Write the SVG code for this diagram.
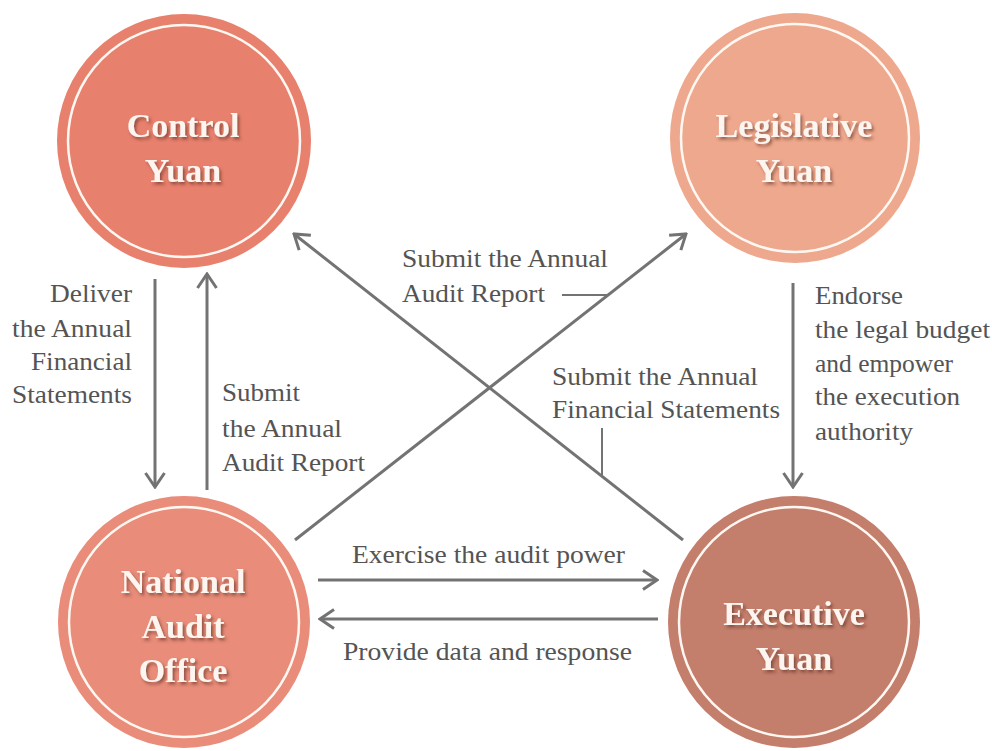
<svg xmlns="http://www.w3.org/2000/svg" width="992" height="751" viewBox="0 0 992 751">
<style>
.ring{fill:none;stroke:#fff8f2;stroke-width:2.5}
.nl{font-family:"Liberation Serif","Times New Roman",serif;font-weight:bold;font-size:34px;fill:#fdf6f0;text-anchor:middle}
.lb{font-family:"Liberation Serif","Times New Roman",serif;font-size:25px;fill:#545454}
.ln{fill:none;stroke:#737373;stroke-width:3}
.thin{fill:none;stroke:#737373;stroke-width:2}
</style>
<defs>
<marker id="ah" viewBox="0 0 18 22" refX="16" refY="11" markerWidth="18" markerHeight="22" markerUnits="userSpaceOnUse" orient="auto">
<path d="M2,1.5 L16,11 L2,20.5" fill="none" stroke="#737373" stroke-width="3"/>
</marker>
<filter id="sh" x="-20%" y="-20%" width="140%" height="140%">
<feDropShadow dx="2" dy="2.5" stdDeviation="1.5" flood-color="#5a2a20" flood-opacity="0.6"/>
</filter>
</defs>
<rect width="992" height="751" fill="#ffffff"/>
<g id="control-yuan">
<circle cx="184" cy="141" r="127" fill="#e8806e"/>
<circle class="ring" cx="184" cy="141" r="116"/>
<g filter="url(#sh)"><text class="nl" x="183" y="137">Control</text><text class="nl" x="183" y="182">Yuan</text></g>
</g>
<g id="legislative-yuan">
<circle cx="795" cy="138" r="125" fill="#eea88e"/>
<circle class="ring" cx="795" cy="138" r="114"/>
<g filter="url(#sh)"><text class="nl" x="794" y="137">Legislative</text><text class="nl" x="794" y="182">Yuan</text></g>
</g>
<g id="national-audit-office">
<circle cx="184" cy="622" r="126" fill="#e98c7a"/>
<circle class="ring" cx="184" cy="622" r="115"/>
<g filter="url(#sh)"><text class="nl" x="183" y="593">National</text><text class="nl" x="183" y="638">Audit</text><text class="nl" x="183" y="682">Office</text></g>
</g>
<g id="executive-yuan">
<circle cx="794" cy="622" r="126" fill="#c47e6c"/>
<circle class="ring" cx="794" cy="622" r="115"/>
<g filter="url(#sh)"><text class="nl" x="794" y="625">Executive</text><text class="nl" x="794" y="670">Yuan</text></g>
</g>
<g id="connectors">
<line class="ln" x1="155" y1="279" x2="155" y2="487" marker-end="url(#ah)"/>
<line class="ln" x1="207" y1="490" x2="207" y2="274" marker-end="url(#ah)"/>
<line class="ln" x1="793" y1="283" x2="793" y2="487" marker-end="url(#ah)"/>
<line class="ln" x1="318" y1="580" x2="657" y2="580" marker-end="url(#ah)"/>
<line class="ln" x1="658" y1="619" x2="320" y2="619" marker-end="url(#ah)"/>
<line class="ln" x1="295" y1="540" x2="686" y2="234" marker-end="url(#ah)"/>
<line class="ln" x1="683" y1="540" x2="294" y2="234" marker-end="url(#ah)"/>
<line class="thin" x1="562" y1="295" x2="607" y2="295"/>
<line class="thin" x1="602" y1="428" x2="602" y2="475"/>
</g>
<g id="labels">
<text class="lb" x="50" y="302" textLength="82" lengthAdjust="spacingAndGlyphs">Deliver</text>
<text class="lb" x="12" y="337" textLength="120" lengthAdjust="spacingAndGlyphs">the Annual</text>
<text class="lb" x="31" y="370" textLength="101" lengthAdjust="spacingAndGlyphs">Financial</text>
<text class="lb" x="12" y="403" textLength="120" lengthAdjust="spacingAndGlyphs">Statements</text>
<text class="lb" x="222" y="401" textLength="78" lengthAdjust="spacingAndGlyphs">Submit</text>
<text class="lb" x="222" y="437" textLength="120" lengthAdjust="spacingAndGlyphs">the Annual</text>
<text class="lb" x="222" y="471" textLength="143" lengthAdjust="spacingAndGlyphs">Audit Report</text>
<text class="lb" x="402" y="267" textLength="206" lengthAdjust="spacingAndGlyphs">Submit the Annual</text>
<text class="lb" x="402" y="302" textLength="143" lengthAdjust="spacingAndGlyphs">Audit Report</text>
<text class="lb" x="552" y="385" textLength="206" lengthAdjust="spacingAndGlyphs">Submit the Annual</text>
<text class="lb" x="552" y="418" textLength="228" lengthAdjust="spacingAndGlyphs">Financial Statements</text>
<text class="lb" x="815" y="304" textLength="88" lengthAdjust="spacingAndGlyphs">Endorse</text>
<text class="lb" x="815" y="338" textLength="175" lengthAdjust="spacingAndGlyphs">the legal budget</text>
<text class="lb" x="815" y="372" textLength="138" lengthAdjust="spacingAndGlyphs">and empower</text>
<text class="lb" x="815" y="405" textLength="145" lengthAdjust="spacingAndGlyphs">the execution</text>
<text class="lb" x="815" y="440" textLength="98" lengthAdjust="spacingAndGlyphs">authority</text>
<text class="lb" x="352" y="563" textLength="273" lengthAdjust="spacingAndGlyphs">Exercise the audit power</text>
<text class="lb" x="343" y="660" textLength="289" lengthAdjust="spacingAndGlyphs">Provide data and response</text>
</g>
</svg>
